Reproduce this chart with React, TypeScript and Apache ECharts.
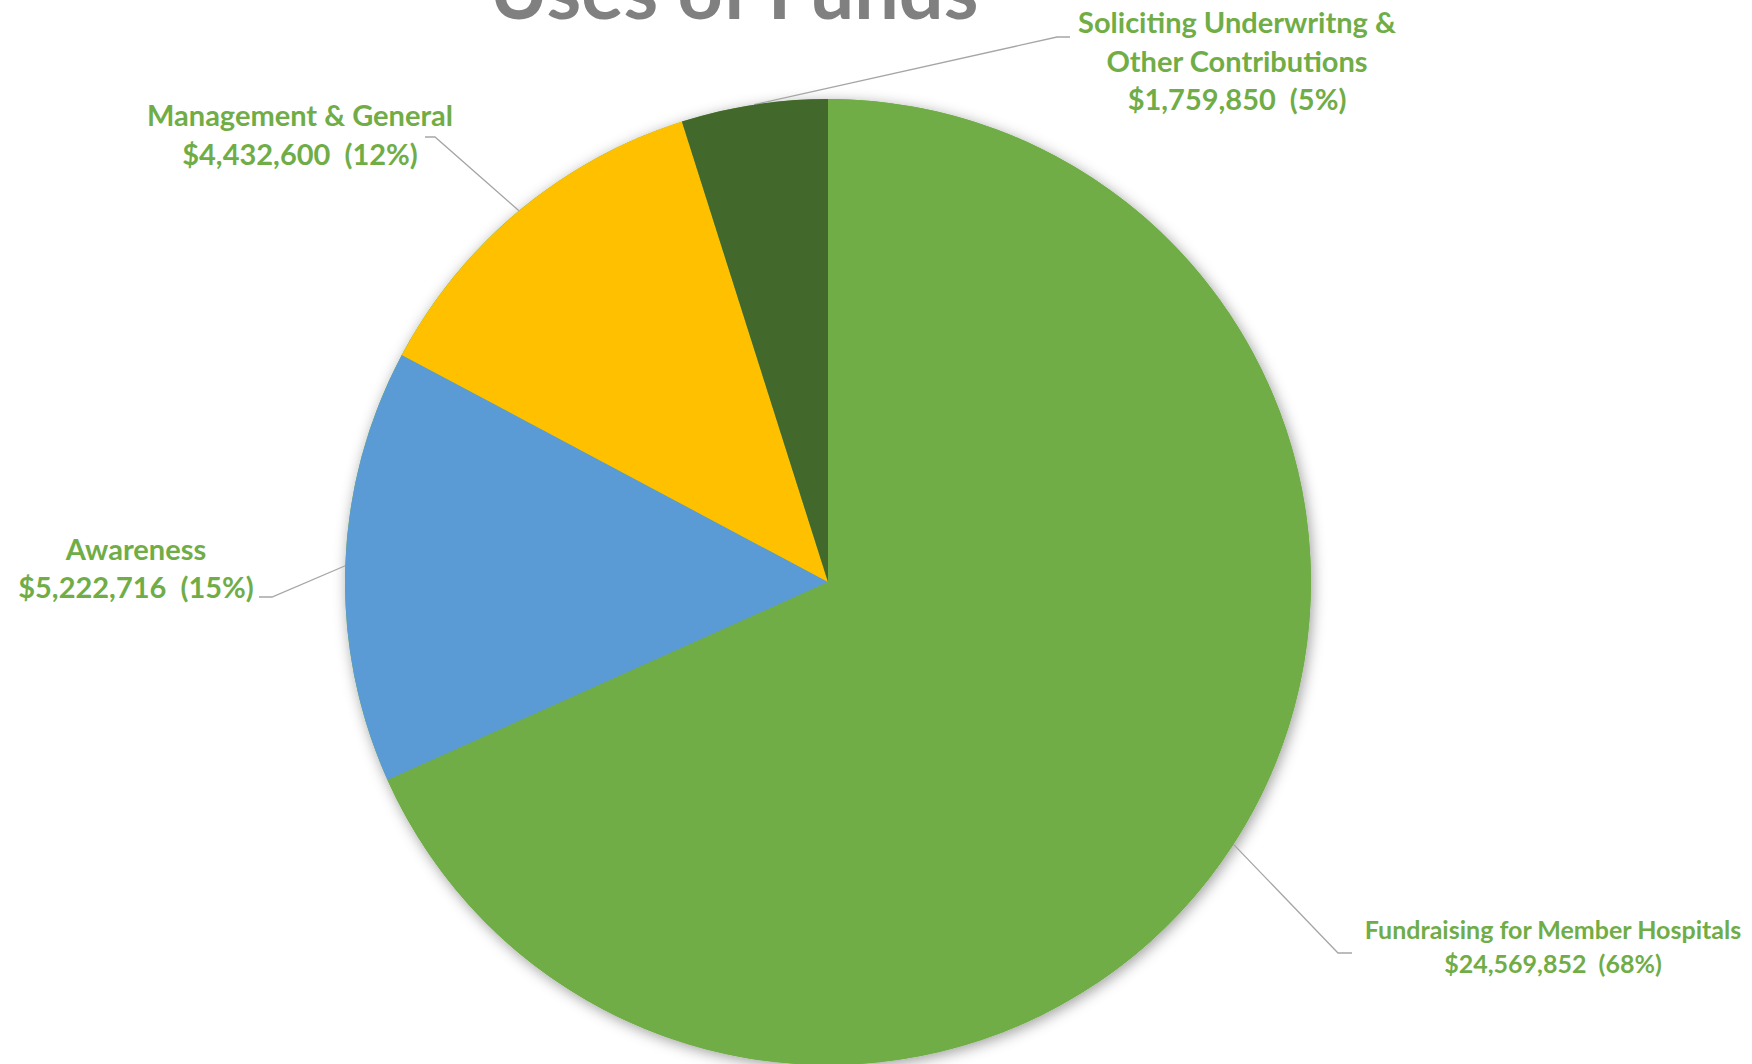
import React, { useEffect, useRef } from "react";
import * as echarts from "echarts";

// ---- data ----
const categories = [
  "Fundraising for Member Hospitals",
  "Awareness",
  "Management & General",
  "Soliciting Underwritng &\nOther Contributions",
];
const values = [24569852, 5222716, 4432600, 1759850];
const colors = ["#70AD47", "#5B9BD5", "#FFC000", "#43682B"];
const titleText = "Uses of Funds";

// ---- layout (label anchors, leader-line bends) ----
const labelCenters = [
  [1553, 946],
  [136, 567],
  [300, 134],
  [1237, 60],
];
const leaderBends = [
  [[1338, 953], [1352, 953]],
  [[272, 597], [259, 597]],
  [[435, 137], [425, 137]],
  [[1057, 37], [1070, 37]],
];
const labelFont = [
  { fontSize: 25, lineHeight: 34 },
  { fontSize: 29, lineHeight: 38 },
  { fontSize: 29, lineHeight: 39 },
  { fontSize: 29, lineHeight: 38.5 },
];

const W = 1752;
const H = 1064;
const CENTER = [828, 582];
const RADIUS = 483;

export default function App() {
  const ref = useRef<HTMLDivElement>(null);

  useEffect(() => {
    if (!ref.current) return;
    const chart = echarts.init(ref.current, undefined, { renderer: "svg" });
    const total = values.reduce((a, b) => a + b, 0);

    const option: any = {
      animation: false,
      backgroundColor: "#ffffff",
      graphic: [
        {
          type: "text",
          x: 734,
          y: -12,
          z: 10,
          style: {
            text: titleText,
            fontSize: 79,
            fontWeight: "bold",
            fontFamily: "Lato",
            fill: "#808080",
            align: "center",
            verticalAlign: "middle",
          },
        },
      ],
      series: [
        {
          type: "pie",
          silent: true,
          z: 1,
          center: CENTER,
          radius: RADIUS,
          startAngle: 90,
          label: { show: false },
          labelLine: { show: false },
          data: [{ value: total, name: "total" }],
          itemStyle: {
            color: "#70AD47",
            shadowBlur: 14,
            shadowColor: "rgba(0,0,0,0.38)",
            shadowOffsetX: 2,
            shadowOffsetY: 3,
          },
        },
        {
          type: "pie",
          z: 2,
          center: CENTER,
          radius: RADIUS,
          startAngle: 90,
          clockwise: true,
          avoidLabelOverlap: false,
          itemStyle: { borderWidth: 0 },
          label: {
            show: true,
            position: "outside",
            color: "#70AD47",
            fontFamily: "Lato",
            fontWeight: "bold",
            align: "center",
            formatter: (p: any) =>
              `${p.name}\n$${Number(p.value).toLocaleString("en-US")}  (${Math.round(p.percent)}%)`,
          },
          labelLine: {
            show: true,
            lineStyle: { color: "#A6A6A6", width: 1.3 },
          },
          labelLayout: (params: any) => {
            const i = params.dataIndex;
            const start = params.labelLinePoints ? params.labelLinePoints[0] : null;
            const pts = start ? [start, leaderBends[i][0], leaderBends[i][1]] : undefined;
            return {
              x: labelCenters[i][0],
              y: labelCenters[i][1],
              align: "center",
              verticalAlign: "middle",
              labelLinePoints: pts,
            };
          },
          data: categories.map((name, i) => ({
            name,
            value: values[i],
            itemStyle: { color: colors[i] },
            label: { fontSize: labelFont[i].fontSize, lineHeight: labelFont[i].lineHeight },
          })),
        },
      ],
    };

    chart.setOption(option);
    return () => chart.dispose();
  }, []);

  return (
    <div
      ref={ref}
      style={{ position: "fixed", left: 0, top: 0, width: W, height: H, background: "#fff" }}
    />
  );
}
